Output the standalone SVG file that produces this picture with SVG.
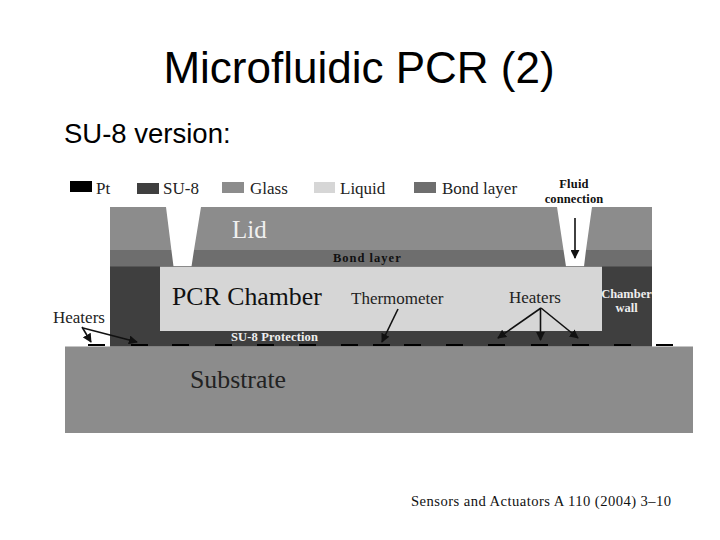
<svg xmlns="http://www.w3.org/2000/svg" width="720" height="540" viewBox="0 0 720 540">
<defs>
<marker id="ah" viewBox="0 0 10 10" refX="9" refY="5" markerWidth="9" markerHeight="9" markerUnits="userSpaceOnUse" orient="auto"><path d="M0 0L10 5L0 10Z" fill="#111"/></marker>
</defs>
<style>
.s{font-family:"Liberation Sans",Arial,sans-serif;fill:#000}
.t{font-family:"Liberation Serif","Times New Roman",serif;fill:#222}
.b{font-family:"Liberation Serif","Times New Roman",serif;font-weight:bold;font-size:12.5px}
.c{fill:none;stroke:#111;stroke-width:1.6;marker-end:url(#ah)}
.pt{fill:#000}
.su{fill:#3f3f3f}.gl{fill:#8c8c8c}.li{fill:#d6d6d6}.bo{fill:#6e6e6e}
</style>
<rect width="720" height="540" fill="#fff"/>
<text class="s" x="359" y="83" font-size="44" text-anchor="middle">Microfluidic PCR (2)</text>
<text class="s" x="64" y="143" font-size="27.500">SU-8 version:</text>
<g id="legend">
<rect class="pt" x="70" y="181" width="22" height="11"/><text class="t" x="96" y="194" font-size="17">Pt</text>
<rect class="su" x="137" y="183" width="22" height="11"/><text class="t" x="163" y="194" font-size="17">SU-8</text>
<rect class="gl" x="222" y="182" width="22" height="11"/><text class="t" x="250" y="194" font-size="17">Glass</text>
<rect class="li" x="314" y="182" width="21" height="11"/><text class="t" x="340" y="194" font-size="17">Liquid</text>
<rect class="bo" x="414" y="182" width="22" height="11"/><text class="t" x="442" y="194" font-size="17">Bond layer</text>
</g>
<g id="substrate"><rect class="gl" x="65" y="346.500" width="628" height="86.500"/><text class="t" x="190" y="388" font-size="25.800">Substrate</text></g>
<g id="su8"><rect class="su" x="110" y="266" width="542" height="80.500"/></g>
<g id="chamber"><rect class="li" x="160" y="266.500" width="442" height="64.500"/><text class="t" x="172" y="305" font-size="25.800" style="fill:#111">PCR Chamber</text></g>
<g id="lid">
<path class="gl" d="M110 207H166L171.400 250H110ZM201 207H557L563.500 250H194ZM592 207H652V250H586Z"/>
<text x="232" y="238" font-family="Liberation Serif,serif" font-size="25" fill="#f0f0f0">Lid</text>
</g>
<g id="bond">
<path class="bo" d="M110 250H171.400L173.500 266.500H110ZM194 250H563.500L566 266.500H191.500ZM586 250H652V266.500H584Z"/>
<text class="b" x="333" y="261.500" fill="#111" letter-spacing="1">Bond layer</text>
</g>
<g id="heaters">
<path class="pt" d="M88 344h17v2h-17zM131 344h17v2h-17zM172 344h17v2h-17zM215 344h17v2h-17zM257 344h17v2h-17zM299 344h17v2h-17zM341 344h17v2h-17zM373 344h17v2h-17zM404 344h17v2h-17zM446 344h17v2h-17zM488 344h17v2h-17zM531 344h17v2h-17zM572 344h17v2h-17zM614 344h17v2h-17zM656 344h17v2h-17z"/>
</g>
<g id="labels">
<text class="t" x="53" y="323" font-size="17">Heaters</text>
<text class="t" x="351" y="304" font-size="17">Thermometer</text>
<text class="t" x="509" y="303" font-size="17">Heaters</text>
<text class="b" x="231" y="341" fill="#eee" letter-spacing="0.150">SU-8 Protection</text>
<text class="b" x="574" y="188" text-anchor="middle" fill="#111" letter-spacing="0.200">Fluid</text>
<text class="b" x="574" y="203" text-anchor="middle" fill="#111" letter-spacing="0.100">connection</text>
<text class="b" x="626.500" y="298" text-anchor="middle" fill="#eee">Chamber</text>
<text class="b" x="626.500" y="312" text-anchor="middle" fill="#eee">wall</text>
<text class="t" x="411" y="506" font-size="14.600" style="fill:#111" letter-spacing="0.460">Sensors and Actuators A 110 (2004) 3–10</text>
</g>
<g id="connectors">
<path class="c" d="M82 327L91 342"/>
<path class="c" d="M83 328L137 342"/>
<path class="c" d="M398 309L382 342"/>
<path class="c" d="M541 308L498 338"/>
<path class="c" d="M540.500 308V340"/>
<path class="c" d="M541 308L578 338"/>
<path class="c" d="M575 218V258"/>
</g>
</svg>
